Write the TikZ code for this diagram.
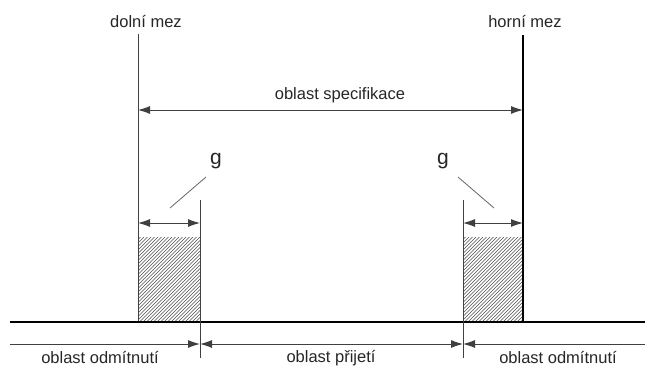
\documentclass[tikz,border=0pt]{standalone}
\usepackage{fontspec}
\setmainfont{Liberation Sans}
\usetikzlibrary{arrows.meta}
\begin{document}
\begin{tikzpicture}[x=1pt,y=-1pt,
  thinline/.style={draw=black!75, line width=1pt},
  thickline/.style={draw=black, line width=2pt},
  tip/.tip={Latex[length=12pt,width=8pt]},
  dimboth/.style={thinline, tip-tip},
  leader/.style={draw=black!60, line width=0.8pt},
  lbl/.style={font=\fontsize{16.5}{19}\selectfont, inner sep=0pt, text=black!85},
  glbl/.style={font=\fontsize{21}{24}\selectfont, inner sep=0pt, text=black!85},
  hatch/.style={draw=black!70, line width=0.5pt}]
\useasboundingbox (0,0) rectangle (650,369);
% limit lines
\node[lbl] (dm) at (146,22) {dolní mez};
\node[lbl] (hm) at (525,22) {horní mez};
\coordinate (dmt) at (138,34);
\coordinate (dmb) at (138,322);
\coordinate (hmt) at (523,35);
\coordinate (hmb) at (523,322);
% hatched areas
\begin{scope}
  \clip (138,237) rectangle (200,322);
  \foreach \i in {-100,-96.5,...,100} \draw[hatch] (138+\i,322) -- ++(100,-100);
\end{scope}
\begin{scope}
  \clip (463,237) rectangle (523,322);
  \foreach \i in {-100,-96.5,...,100} \draw[hatch] (463+\i,322) -- ++(100,-100);
\end{scope}
\draw[thinline] (dmt) -- (dmb);
\draw[thickline] (hmt) -- (hmb);
% spec dimension
\coordinate (sl) at (138,110);
\coordinate (sr) at (523,110);
\draw[dimboth] (sl) -- (sr);
\node[lbl] (spec) at (340,95) {oblast specifikace};
% baseline
\coordinate (bl) at (10,322);
\coordinate (br) at (645,322);
\draw[thickline] (bl) -- (br);
% g lines
\coordinate (gLt) at (200,200);
\coordinate (gLb) at (200,358);
\coordinate (gRt) at (463,200);
\coordinate (gRb) at (463,358);
\draw[thinline] (gLt) -- (gLb);
\draw[thinline] (gRt) -- (gRb);
% g dimensions
\coordinate (g1a) at (138,223);
\coordinate (g1b) at (200,223);
\coordinate (g2a) at (463,223);
\coordinate (g2b) at (523,223);
\draw[dimboth] (g1a) -- (g1b);
\draw[dimboth] (g2a) -- (g2b);
\node[glbl] (gL) at (216,161) {g};
\node[glbl] (gR) at (443,161) {g};
\coordinate (l1a) at (170,208);
\coordinate (l1b) at (206,177);
\coordinate (l2a) at (494,208);
\coordinate (l2b) at (458,177);
\draw[leader] (l1a) -- (l1b);
\draw[leader] (l2a) -- (l2b);
% bottom dimension line
\coordinate (ql) at (10,344);
\coordinate (qa) at (200,344);
\coordinate (qb) at (463,344);
\coordinate (qr) at (645,344);
\draw[thinline, -tip] (ql) -- (qa);
\draw[dimboth] (qa) -- (qb);
\draw[thinline, tip-] (qb) -- (qr);
\node[lbl] (o1) at (100,358) {oblast odmítnutí};
\node[lbl] (o2) at (331,358) {oblast přijetí};
\node[lbl] (o3) at (558,358) {oblast odmítnutí};
\end{tikzpicture}
\end{document}
